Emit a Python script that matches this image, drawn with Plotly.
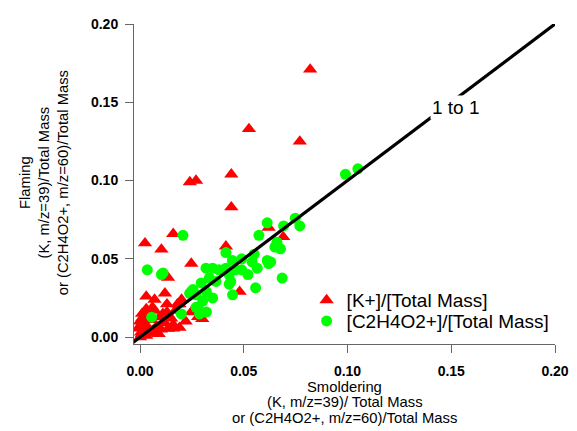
import plotly.graph_objects as go

# --- data ---
k_smolder = [0.082, 0.0525, 0.077, 0.044, 0.024, 0.027, 0.044, 0.016, 0.0024, 0.0103,
             0.0414, 0.0247, 0.0135, 0.062, 0.069, 0.048, 0.003, 0.007, 0.012,
             0.013, 0.018, 0.001, 0.005, 0.0095, 0.0135, -0.001, 0.005, 0.030, 0.0247,
             0.028, 0.0, 0.001, 0.002, 0.003, 0.004, 0.002, 0.006, 0.008, 0.010,
             0.012, 0.015, 0.011, 0.0, 0.001, 0.003, 0.007, 0.016, 0.019, 0.017,
             0.020, 0.019, 0.016, 0.009, 0.0005, 0.004, 0.006, 0.013, 0.022]
k_flaming = [0.171, 0.133, 0.125, 0.104, 0.099, 0.100, 0.083, 0.066, 0.060, 0.056,
             0.058, 0.047, 0.038, 0.070, 0.064, 0.029, 0.026, 0.024, 0.028,
             0.021, 0.021, 0.012, 0.011, 0.0127, 0.0054, 0.0056, 0.0025, 0.0117, 0.016,
             0.013, 0.0, 0.002, 0.004, 0.001, 0.006, 0.008, 0.004, 0.007, 0.005,
             0.009, 0.012, 0.015, 0.010, 0.015, 0.018, 0.017, 0.008, 0.006, 0.017,
             0.024, 0.021, 0.0056, 0.002, 0.003, 0.014, 0.019, 0.016, 0.010]

c_smolder = [0.0207, 0.0035, 0.0103, 0.0111, 0.0318, 0.035, 0.038, 0.0414, 0.043, 0.0334,
             0.0295, 0.0255, 0.0239, 0.027, 0.032, 0.035, 0.0302, 0.0279, 0.0287, 0.032,
             0.0199, 0.0056, 0.0437, 0.0446, 0.0414, 0.049, 0.046, 0.049, 0.055, 0.054,
             0.0565, 0.0613, 0.063, 0.0557, 0.0685, 0.0573, 0.0613, 0.0692, 0.0748, 0.077,
             0.066, 0.0677, 0.065, 0.099, 0.105, 0.0366, 0.062, 0.043, 0.0247,
             0.027, 0.052, 0.0445]
c_flaming = [0.065, 0.043, 0.040, 0.041, 0.044, 0.044, 0.043, 0.044, 0.040, 0.0377,
             0.0346, 0.0304, 0.028, 0.027, 0.029, 0.025, 0.023, 0.019, 0.0148, 0.016,
             0.0148, 0.0127, 0.0356, 0.027, 0.054, 0.050, 0.043, 0.043, 0.053, 0.048,
             0.044, 0.049, 0.048, 0.0315, 0.0377, 0.065, 0.073, 0.071, 0.076, 0.071,
             0.0606, 0.0564, 0.0575, 0.104, 0.1075, 0.0356, 0.047, 0.0338, 0.029,
             0.019, 0.040, 0.049]

one_to_one = [-0.005, 0.21]
tick_vals = [0.0, 0.05, 0.10, 0.15, 0.20]
tick_text = ["0.00", "0.05", "0.10", "0.15", "0.20"]
x_title_lines = ["Smoldering", "(K, m/z=39)/ Total Mass", "or (C2H4O2+, m/z=60)/Total Mass"]

FONT = "Liberation Sans, Arial, sans-serif"

fig = go.Figure()
fig.add_trace(go.Scatter(
    x=k_smolder, y=k_flaming, mode="markers", name="[K+]/[Total Mass]",
    legend="legend",
    marker=dict(symbol="triangle-up", size=12.5, color="#ff0000", line=dict(width=0)),
))
fig.add_trace(go.Scatter(
    x=c_smolder, y=c_flaming, mode="markers", name="[C2H4O2+]/[Total Mass]",
    legend="legend2",
    marker=dict(symbol="circle", size=11, color="#00ff00", line=dict(width=0)),
))
fig.add_trace(go.Scatter(
    x=one_to_one, y=one_to_one, mode="lines", showlegend=False,
    line=dict(color="black", width=3.2), hoverinfo="skip",
))

axis_common = dict(
    showgrid=False, zeroline=False, showline=True, linecolor="#666666", linewidth=1,
    ticks="outside", ticklen=8, tickcolor="#666666", tickwidth=1,
    tickvals=tick_vals, ticktext=tick_text, ticklabeloverflow="allow",
    tickfont=dict(family=FONT, size=14, color="black", weight="bold"),
)

legend_common = dict(xanchor="left", yanchor="middle", bgcolor="rgba(0,0,0,0)",
                     font=dict(family=FONT, size=19, color="black"))

annotations = [
    dict(text="1 to 1", x=0.1523, y=0.1468, xref="x", yref="y", showarrow=False,
         bgcolor="white", font=dict(family=FONT, size=19, color="black")),
    dict(text="Flaming<br>(K, m/z=39)/Total Mass<br>or (C2H4O2+, m/z=60)/Total Mass",
         x=-0.214, y=0.505, xref="paper", yref="paper", xanchor="center",
         yanchor="middle", textangle=-90, showarrow=False,
         font=dict(family=FONT, size=14.8, color="black")),
]
# x-axis title, one line each (page centres ~388, 404, 420 px)
for i, line in enumerate(x_title_lines):
    annotations.append(dict(
        text=line, x=0.5, y=-0.134 - i * 0.0488, xref="paper", yref="paper",
        xanchor="center", yanchor="middle", showarrow=False, borderpad=0,
        font=dict(family=FONT, size=14.8, color="black")))

# the page has an 8px body margin, so the figure is sized to fit the 577x431 window
fig.update_layout(
    width=569, height=423,
    margin=dict(l=126, r=18, t=8, b=87),
    paper_bgcolor="white", plot_bgcolor="white",
    xaxis=dict(range=[-0.0029, 0.2], ticklabelstandoff=6, **axis_common),
    yaxis=dict(range=[-0.0044, 0.2], ticklabelstandoff=4, **axis_common),
    legend=dict(x=0.41, y=0.137, **legend_common),
    legend2=dict(x=0.41, y=0.0716, **legend_common),
    annotations=annotations,
)

fig.write_html("out.html")
